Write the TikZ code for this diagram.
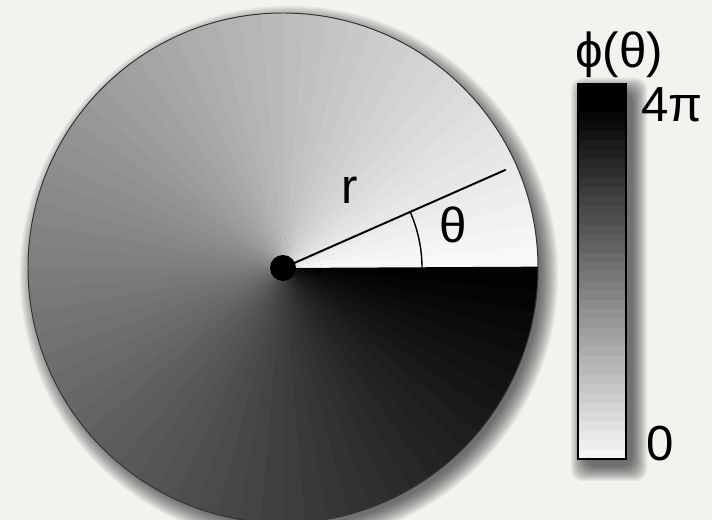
\documentclass[tikz,border=0pt]{standalone}
\usepackage{fontspec}
\setmainfont{Liberation Sans}
\usepackage{tikz}
\usetikzlibrary{positioning,calc,fit}
\definecolor{paper}{HTML}{F3F2EF}

\begin{document}
\begin{tikzpicture}[x=0.025cm, y=0.025cm,
  lbl/.style={inner sep=0pt, font=\fontsize{35}{40}\selectfont},
  rim/.style={draw=black!80, line width=0.7pt},
  haze/.style={fill=black, opacity=0.06},
  ray/.style={line width=1.4pt, line cap=round}
]
  \fill[paper] (0,0) rectangle (712,520);
  \useasboundingbox (0,0) rectangle (712,520);
  \coordinate (c) at (283,252);
  % shadows
  \foreach \k in {0,...,11}{
    \fill[haze] ($(c)+(6,-7)$) circle (269-\k*1.6);
  }
  \coordinate (barSW) at (578,61);
  \coordinate (barNE) at (626,436);
  \foreach \k in {0,...,11}{
    \fill[haze, rounded corners=8] ($(barSW)+(7-14+\k*1.3,-8-14+\k*1.3)$) rectangle ($(barNE)+(7+14-\k*1.3,-8+14-\k*1.3)$);
  }
  % plate
  \foreach \i in {0,...,71}{
    \pgfmathsetmacro{\g}{2+98*(\i+0.5)/72}
    \fill[black!\g] (c) -- ++(\i*5:255) arc (\i*5:\i*5+5.3:255) -- cycle;
  }
  \draw[rim] (c) circle (255);
  \coordinate (tip) at ($(c)+(23.8:243)$);
  \draw[ray] (c) -- (tip);
  \draw[line width=1pt] ($(c)+(0:139)$) arc (0:23.8:139);
  \fill (c) circle (13);
  \node[lbl] (r) at (350,330) {r};
  \node[lbl] (theta) at (453,295) {θ};
  % colour bar
  \foreach \j in {0,...,39}{
    \pgfmathsetmacro{\h}{min(100,4+96*\j/37)}
    \fill[black!\h] ($(barSW)+(0,\j*375/40)$) rectangle ($(barSW)+(48,\j*375/40+375/40+0.3)$);
  }
  \node[draw, line width=1.3pt, inner sep=0pt, fit=(barSW)(barNE)] (bar) {};
  \node[lbl] (phi) at (619,465) {ϕ(θ)};
  \node[lbl, anchor=north west] (top) at ($(bar.north east)+(14,-4)$) {4π};
  \node[lbl] (zero) at (660,76) {0};
\end{tikzpicture}
\end{document}
